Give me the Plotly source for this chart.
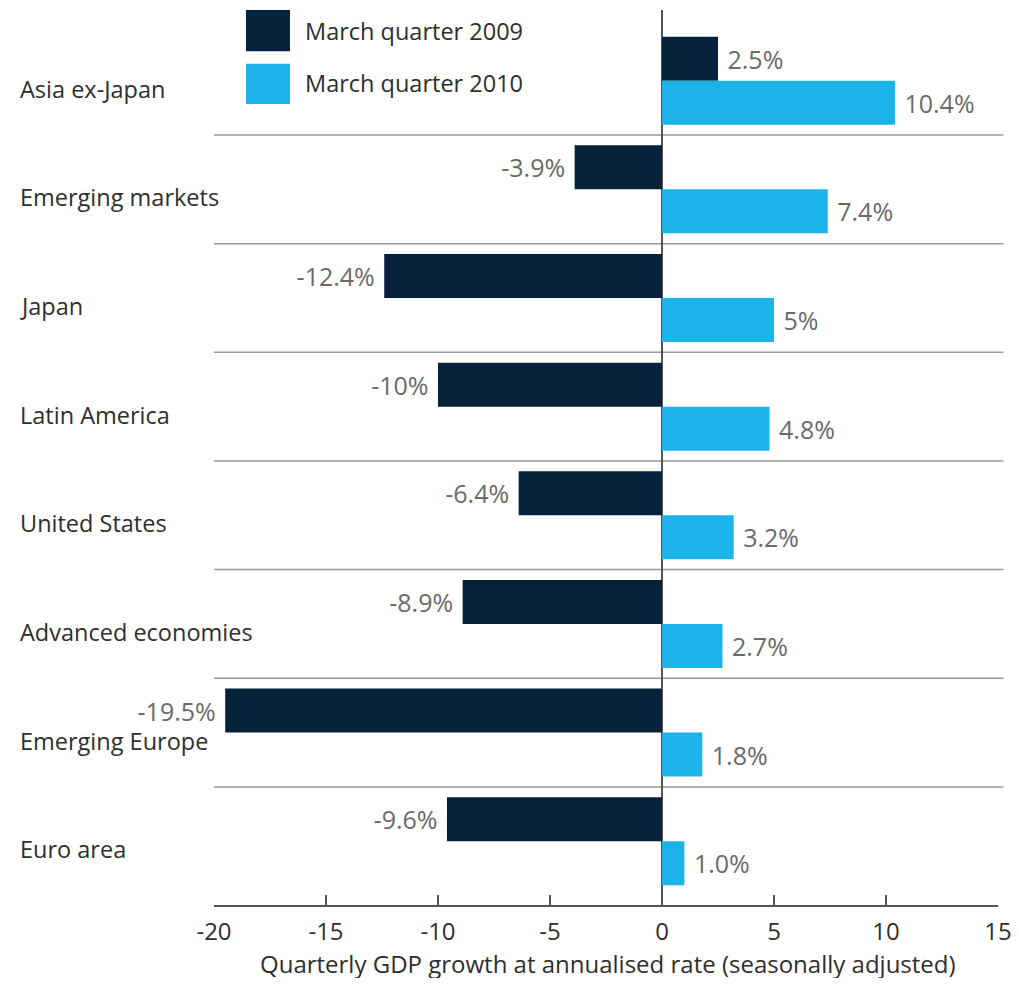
import plotly.graph_objects as go

regions = ['Asia ex-Japan', 'Emerging markets', 'Japan', 'Latin America',
           'United States', 'Advanced economies', 'Emerging Europe', 'Euro area']
growth_2009 = [2.5, -3.9, -12.4, -10.0, -6.4, -8.9, -19.5, -9.6]
growth_2010 = [10.4, 7.4, 5.0, 4.8, 3.2, 2.7, 1.8, 1.0]
labels_2009 = ['2.5%', '-3.9%', '-12.4%', '-10%', '-6.4%', '-8.9%', '-19.5%', '-9.6%']
labels_2010 = ['10.4%', '7.4%', '5%', '4.8%', '3.2%', '2.7%', '1.8%', '1.0%']
x_ticks = [-20, -15, -10, -5, 0, 5, 10, 15]
x_tick_text = ['-20', '-15', '-10', '-5', '0', '5', '10', '15']
x_title = 'Quarterly GDP growth at annualised rate (seasonally adjusted)'

dark = '#06223a'
light = '#1cb4e8'
font_family = 'Open Sans'
text_color = '#2e2e2e'


def pad(labels, values):
    # a little extra gap between bar end and label
    return [('\u00a0' + t) if v >= 0 else (t + '\u00a0') for t, v in zip(labels, values)]


fig = go.Figure()

fig.add_trace(go.Bar(
    y=regions, x=growth_2009, orientation='h', name='March quarter 2009',
    marker=dict(color=dark, line=dict(width=0)),
    text=pad(labels_2009, growth_2009), textposition='outside', cliponaxis=False,
    constraintext='none',
    textfont=dict(family=font_family, size=25, color='#6a6a6a')
))
fig.add_trace(go.Bar(
    y=regions, x=growth_2010, orientation='h', name='March quarter 2010',
    marker=dict(color=light, line=dict(width=0)),
    text=pad(labels_2010, growth_2010), textposition='outside', cliponaxis=False,
    constraintext='none',
    textfont=dict(family=font_family, size=25, color='#6a6a6a')
))

# category separators
shapes = []
for i in range(len(regions) - 1):
    shapes.append(dict(type='line', xref='paper', x0=0, x1=1.007, yref='y',
                       y0=i + 0.5, y1=i + 0.5, line=dict(color='#999999', width=1.5),
                       layer='below'))

# legend swatches
shapes.append(dict(type='rect', xref='paper', yref='paper', x0=0.0408, x1=0.0969,
                   y0=0.954, y1=1.0, fillcolor=dark, line=dict(width=0)))
shapes.append(dict(type='rect', xref='paper', yref='paper', x0=0.0408, x1=0.0969,
                   y0=0.895, y1=0.94, fillcolor=light, line=dict(width=0)))

annotations = []
for i, r in enumerate(regions):
    annotations.append(dict(text=r, xref='paper', x=-0.25, xanchor='left',
                            yref='y', y=i, yshift=-8, showarrow=False,
                            font=dict(family=font_family, size=23.5, color=text_color)))
annotations.append(dict(text='March quarter 2009', xref='paper', x=0.1135, xanchor='left',
                        yref='paper', y=0.977, yanchor='middle', showarrow=False,
                        font=dict(family=font_family, size=23.5, color=text_color)))
annotations.append(dict(text='March quarter 2010', xref='paper', x=0.1135, xanchor='left',
                        yref='paper', y=0.918, yanchor='middle', showarrow=False,
                        font=dict(family=font_family, size=23.5, color=text_color)))
# axis title
annotations.append(dict(text=x_title, xref='paper', x=0.502, xanchor='center',
                        yref='paper', y=0, yanchor='middle', yshift=-58, showarrow=False,
                        font=dict(family=font_family, size=24, color=text_color)))

fig.update_xaxes(
    range=[-20, 15],
    tickvals=x_ticks, ticktext=x_tick_text,
    ticks='inside', ticklen=10, tickwidth=1.5, tickcolor='#555',
    ticklabelstandoff=4, ticklabeloverflow='allow',
    automargin=False,
    showline=True, linecolor='#555', linewidth=1.5,
    showgrid=False,
    zeroline=True, zerolinecolor='#555', zerolinewidth=1.5,
    tickfont=dict(family=font_family, size=24, color=text_color),
)
fig.update_yaxes(
    range=[7.587, -0.651],
    showticklabels=False, showgrid=False, showline=False, ticks='',
)
fig.update_layout(
    width=1003, height=970,
    barmode='group', bargap=0.19, bargroupgap=0,
    showlegend=False,
    plot_bgcolor='white', paper_bgcolor='white',
    margin=dict(l=206, r=13, t=2, b=73),
    shapes=shapes,
    annotations=annotations,
)

fig.write_html('out.html')
